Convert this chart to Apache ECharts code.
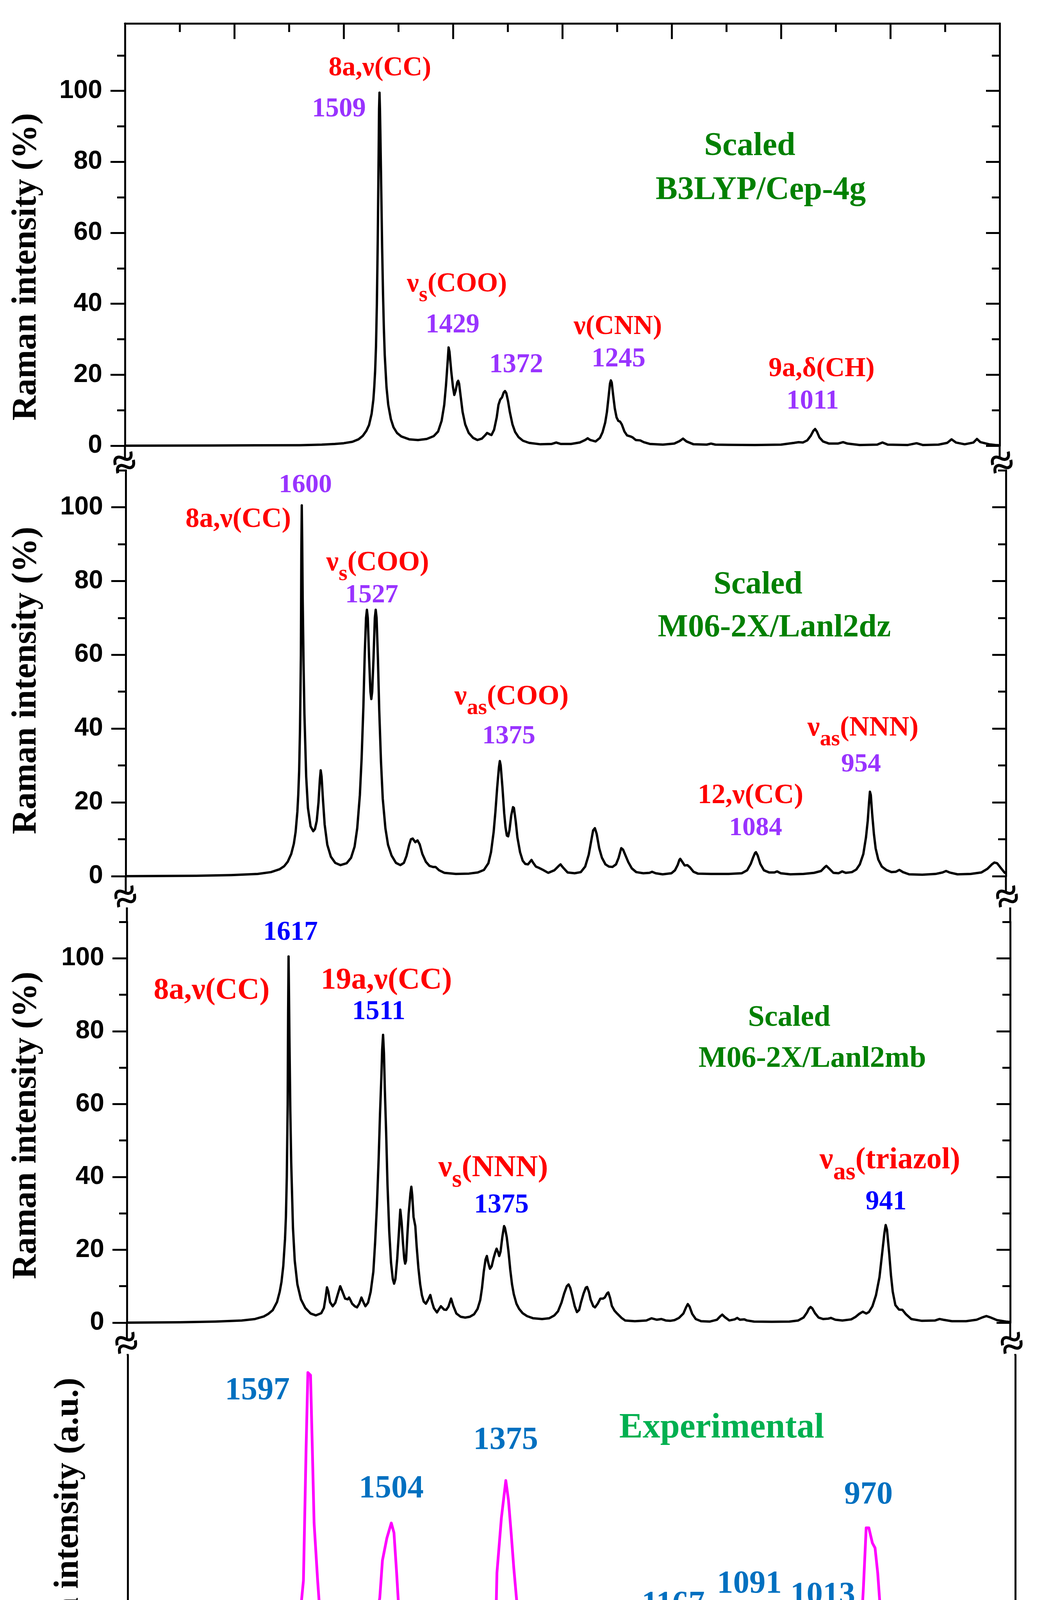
<!DOCTYPE html>
<html>
<head>
<meta charset="utf-8">
<script src="https://cdn.jsdelivr.net/npm/echarts/dist/echarts.min.js"></script>
<style>
html,body{margin:0;padding:0;background:#ffffff;}
#chart{width:2694px;height:4744px;}
</style>
</head>
<body>
<div id="chart"></div>
<script>
// ---------------- DATA ----------------
// Wavenumber (cm-1) / Raman intensity (%) pairs
const b3lypSpectrum = [[1800,0],[1750,0.02],[1700,0.05],[1650,0.1],[1600,0.15],[1575,0.3],[1560,0.5],[1550,0.7],[1540,1.1],[1533,1.8],[1528,2.8],[1524,4.2],[1521,5.8],[1518,9.0],[1516,13],[1515,16.5],[1514,21],[1513,28],[1512,40],[1511,58],[1510,82],[1509.5,95],[1509,99.5],[1508.5,95],[1508,88],[1507,72],[1506,56],[1505,43],[1504,33],[1503,25.5],[1501,16.5],[1499,11.5],[1496,7.5],[1493,5.2],[1489,3.6],[1484,2.6],[1475,1.8],[1465,1.6],[1455,1.9],[1447,2.7],[1442,4.0],[1438,7.0],[1435,11.5],[1433,17],[1431,24],[1430,27.7],[1429,26.5],[1427,21],[1425,16.5],[1423.5,14.3],[1422,15.5],[1420,17.9],[1419,18.3],[1418,17.5],[1416,13.5],[1414,9.5],[1411,6.0],[1407,3.6],[1402,2.2],[1397,1.6],[1392,2.0],[1388,3.0],[1386,3.6],[1383,3.2],[1381,3.0],[1378,4.5],[1375,8.0],[1373,11.5],[1371,13.0],[1369,13.6],[1367,15.0],[1365.5,15.4],[1364,14.8],[1362,12.5],[1360,9.5],[1357,6.0],[1354,3.9],[1350,2.4],[1345,1.4],[1338,0.8],[1325,0.4],[1312,0.5],[1307,0.9],[1302,0.5],[1290,0.5],[1280,0.9],[1274,1.6],[1271,2.1],[1268,1.6],[1262,1.2],[1257,2.2],[1254,3.8],[1251,6.5],[1249,9.5],[1247,14],[1245.5,17.5],[1244.5,18.4],[1243.5,17.8],[1242,14.5],[1240,10.5],[1238,8.0],[1236,7.0],[1234,6.8],[1232,6.0],[1229,4.0],[1226,2.9],[1222,2.6],[1220,2.4],[1216,1.6],[1211,1.5],[1207,1.0],[1200,0.5],[1185,0.3],[1172,0.6],[1166,1.3],[1162,2.0],[1158,1.2],[1150,0.4],[1135,0.3],[1130,0.6],[1125,0.3],[1110,0.25],[1080,0.2],[1050,0.3],[1035,0.8],[1030,1.0],[1025,0.9],[1020,1.5],[1016,2.8],[1013,4.2],[1011,4.7],[1009,4.0],[1006,2.3],[1002,1.2],[995,0.6],[985,0.6],[979,1.0],[974,0.6],[960,0.2],[940,0.3],[934,0.9],[928,0.3],[905,0.2],[895,0.7],[888,0.2],[870,0.3],[860,0.8],[855,1.8],[850,0.9],[840,0.4],[830,0.9],[826,1.9],[822,1.0],[812,0.4],[805,0.2],[800,0.1]];

const lanl2dzSpectrum = [[1800,0],[1720,0.1],[1680,0.3],[1650,0.6],[1635,1.1],[1625,1.9],[1620,2.7],[1616,3.9],[1612,6.0],[1609,8.8],[1607,12],[1605,17.5],[1604,22],[1603,28.5],[1602,40],[1601,60],[1600.5,88],[1600,100.5],[1599.5,90],[1599,76],[1598,58],[1597,44],[1595,27],[1593,18.5],[1590,13.5],[1587,12.2],[1585,12.8],[1583,15],[1581,20],[1579.5,26],[1578.5,28.7],[1577.5,27],[1576,21],[1574,14],[1571,8.5],[1567,5.3],[1562,3.6],[1556,3.0],[1549,3.5],[1544,5.0],[1540,8.0],[1537,13],[1534,22],[1532,32],[1530,46],[1528.5,60],[1527,70],[1526,72.2],[1525,70],[1523.5,59],[1522,50],[1521,48],[1520,50],[1518.5,59],[1517,70],[1516,72.2],[1515,70],[1513.5,59],[1512,45],[1510,31],[1508,21],[1505,13],[1502,8.5],[1498,5.6],[1493,3.6],[1488,3.0],[1484,3.6],[1481,5.5],[1478,8.5],[1476,10.0],[1474,10.2],[1471,9.2],[1468.5,9.7],[1466,8.6],[1463,6.0],[1459,3.9],[1455,2.8],[1451,2.5],[1448,2.5],[1444,1.6],[1438,0.9],[1425,0.6],[1410,0.7],[1400,1.0],[1393,1.7],[1388,3.5],[1385,6.5],[1382,12],[1380,17.5],[1378,24],[1376,29.5],[1375,31.2],[1374,30],[1372,24],[1370,17],[1368.5,13.2],[1367,11],[1365.5,10.8],[1364,12.5],[1362,16.5],[1360,18.7],[1359,18.5],[1357,15],[1355,10.5],[1352,6.5],[1349,4.2],[1346,3.3],[1343,3.2],[1341,3.8],[1339,4.4],[1337,3.6],[1334,2.6],[1331,2.3],[1326,1.7],[1320,0.9],[1313,1.6],[1308,2.8],[1306,3.2],[1303,2.3],[1298,1.0],[1290,0.8],[1283,1.1],[1278,2.6],[1274,5.8],[1271,9.8],[1269,12.4],[1267,13.0],[1265,11.5],[1262,7.5],[1259,5.0],[1255,3.2],[1251,2.6],[1247,2.5],[1243,3.2],[1240,5.0],[1238,6.8],[1237,7.6],[1235,7.2],[1232,5.5],[1229,3.8],[1225,2.1],[1220,1.1],[1212,0.8],[1205,0.9],[1202,1.2],[1198,0.8],[1190,0.5],[1180,0.8],[1176,1.6],[1173,3.0],[1171,4.4],[1170,4.7],[1168,4.0],[1165,2.9],[1162,3.0],[1159,2.4],[1155,1.2],[1150,0.7],[1135,0.6],[1115,0.6],[1100,0.8],[1094,1.6],[1090,3.3],[1087,5.2],[1085,6.3],[1084,6.5],[1082,5.6],[1079,3.3],[1075,1.6],[1069,1.0],[1063,1.0],[1060,1.3],[1056,0.8],[1045,0.5],[1030,0.6],[1018,0.9],[1010,1.4],[1006,2.4],[1004,2.8],[1001,2.1],[996,0.9],[990,0.8],[986,1.3],[982,0.9],[975,1.1],[970,1.8],[966,3.2],[962,6.0],[959,10.5],[957,15],[955.5,20],[954.5,22.9],[953.5,22],[952,17],[950,11.5],[948,7.5],[945,4.5],[941,2.6],[936,1.7],[930,1.1],[925,1.2],[921,1.7],[917,1.1],[910,0.5],[895,0.4],[880,0.6],[872,1.0],[868,1.4],[864,1.0],[855,0.5],[840,0.6],[828,1.0],[821,2.0],[816,3.2],[813,3.7],[810,3.5],[806,2.3],[802,1.1],[800,0.7]];

const lanl2mbSpectrum = [[1800,0],[1740,0.1],[1700,0.3],[1670,0.6],[1655,1.0],[1645,1.7],[1640,2.4],[1635,3.4],[1630,5.7],[1627,8.5],[1625,11.2],[1623,15.5],[1621,23],[1620,29],[1619,40],[1618,60],[1617.5,85],[1617,100.5],[1616.5,90],[1616,78],[1615,58],[1614,44],[1612,26],[1610,17],[1607,10.5],[1603,6.4],[1598,4.0],[1592,2.5],[1586,2.0],[1580,2.6],[1577,4.0],[1575,7.0],[1573.5,9.7],[1572,8.5],[1570,5.6],[1567,4.5],[1564,5.5],[1561,8.0],[1558.5,10.0],[1556,8.5],[1553,6.6],[1550,6.4],[1548.5,6.9],[1547,6.2],[1545,5.2],[1542,4.5],[1539.5,4.2],[1537,5.2],[1534.5,6.9],[1532,5.5],[1530,4.5],[1527,5.5],[1524,8.5],[1521,14],[1519,22],[1517,32],[1515,45],[1513.5,57],[1512,67],[1511,75],[1510,79],[1509,74],[1508,64],[1506.5,52],[1505,38],[1503,25],[1501,16.5],[1499,12],[1497.5,10.7],[1496,12],[1494,17.5],[1492,25],[1490.5,31],[1489,27.5],[1487.5,22],[1486,17.5],[1485,16.2],[1484,17],[1482.5,24],[1481,30],[1479,35.5],[1478,37.3],[1477,35],[1475.5,29],[1473.5,26.5],[1472,21],[1470,15],[1468,10.5],[1466,7.5],[1464,5.8],[1461.5,5.2],[1459,6.3],[1456.5,7.6],[1454.5,5.6],[1452.5,4.0],[1449,2.8],[1447,3.6],[1444.5,4.5],[1441,3.6],[1438.5,3.5],[1436,4.4],[1433,6.6],[1430.5,4.6],[1427,2.5],[1422,1.6],[1417,1.4],[1412,1.6],[1407,2.3],[1403,3.8],[1400,6.2],[1398,9.5],[1396,14],[1394,17.3],[1392.5,18.3],[1391,16.5],[1389,14.8],[1387,15.5],[1385,17.6],[1383,19.3],[1381.5,20.3],[1380,19.5],[1378.5,18.3],[1377,19.5],[1375,23.5],[1373,26.5],[1372,26.0],[1370,23.5],[1368,19.5],[1366,14.5],[1364,10.5],[1362,7.8],[1359,5.2],[1356,3.8],[1352,2.6],[1347,1.8],[1340,1.2],[1330,1.0],[1322,1.2],[1316,2.0],[1312,3.1],[1308,5.5],[1305,8.0],[1302,10.0],[1300,10.5],[1298,9.5],[1296,7.6],[1293,4.5],[1290.5,2.9],[1288,3.5],[1286,5.5],[1283,8.0],[1280.5,9.6],[1279,9.8],[1277,8.5],[1275,6.3],[1272,4.5],[1270,4.2],[1267,5.2],[1264,6.6],[1261,6.6],[1259,6.9],[1256.5,8.0],[1255,8.3],[1253,6.8],[1251,4.6],[1248,3.3],[1245,2.5],[1240,1.3],[1236,0.6],[1225,0.4],[1212,0.6],[1206,1.2],[1200,0.8],[1195,1.0],[1190,0.6],[1185,0.5],[1180,0.7],[1175,1.3],[1170,2.5],[1167,4.2],[1165,5.1],[1163,4.4],[1160,2.4],[1156,1.0],[1150,0.4],[1140,0.3],[1132,0.8],[1128,1.8],[1126,2.2],[1123,1.5],[1118,0.6],[1112,0.9],[1109,1.3],[1106,0.8],[1101,0.9],[1098,0.6],[1090,0.3],[1070,0.25],[1050,0.3],[1040,0.6],[1034,1.4],[1030,2.8],[1028,3.8],[1026,4.3],[1024,3.9],[1021,2.6],[1017,1.4],[1012,1.0],[1006,1.1],[1003,1.3],[998,0.8],[990,0.6],[980,0.9],[975,1.6],[971,2.4],[967,3.0],[963,2.5],[960,2.9],[956,4.5],[952,7.5],[948,12.5],[945,19],[942.5,24.5],[941,26.8],[939.5,25.5],[937,19],[935,13],[933,8.5],[930,4.8],[926,3.6],[922,3.5],[918,2.3],[912,1.0],[900,0.5],[885,0.6],[880,1.0],[876,0.8],[866,0.4],[850,0.4],[838,0.8],[832,1.4],[827,1.8],[823,1.5],[815,0.7],[805,0.3],[800,0.2]];

// Experimental spectrum, arbitrary units (0 = axis line, 100 = top of panel)
const experimentalSpectrum = [[1705,3.6],[1698,8.2],[1695,4.3],[1692,6.6],[1687,9.2],[1682,6.6],[1677,4.3],[1674,6.9],[1671,9.9],[1668,6.2],[1665,3.6],[1661,6.9],[1656,11.5],[1653,5.2],[1650,8.2],[1645,3.6],[1640,4.6],[1637,6.2],[1634,11.9],[1627,12.8],[1626,15.2],[1623,11.5],[1619,16.8],[1615,18.5],[1611,20.1],[1608,26.7],[1605,33.3],[1602,40.6],[1599,75.6],[1597,95.5],[1594,94.8],[1592,75.6],[1590,55.8],[1586,40.6],[1582,27.4],[1579,25.4],[1576,26.7],[1574,22.8],[1571,24.1],[1566,18.5],[1563,22.8],[1558,23.1],[1555,31.0],[1552,25.4],[1547,24.7],[1542,30.7],[1537,30.0],[1532,28.1],[1527,31.4],[1524,27.4],[1521,29.4],[1516,36.0],[1513,45.9],[1508,51.8],[1503,55.8],[1500,53.2],[1497,42.6],[1494,30.7],[1490,25.4],[1487,26.1],[1484,22.8],[1482,29.4],[1478,26.7],[1474,28.7],[1471,24.7],[1468,22.1],[1465,20.1],[1461,22.1],[1456,16.2],[1453,20.1],[1448,19.5],[1445,19.8],[1440,16.8],[1437,11.5],[1432,16.2],[1429,11.5],[1424,14.2],[1419,20.1],[1416,21.4],[1412,15.5],[1408,16.2],[1403,27.4],[1398,30.7],[1395,29.4],[1390,30.7],[1385,32.0],[1384,42.6],[1379,57.1],[1374,67.0],[1371,61.8],[1368,53.2],[1365,43.9],[1361,33.3],[1358,22.8],[1355,26.1],[1352,22.1],[1348,25.4],[1344,23.4],[1339,24.7],[1335,19.5],[1331,20.1],[1326,14.8],[1323,20.8],[1318,17.5],[1313,19.5],[1308,23.4],[1303,22.1],[1299,20.1],[1296,26.1],[1291,22.8],[1288,25.4],[1283,27.4],[1278,26.1],[1275,22.8],[1271,17.5],[1268,16.2],[1266,20.1],[1263,13.5],[1260,18.8],[1255,22.8],[1252,18.8],[1248,16.2],[1244,20.8],[1240,14.8],[1237,12.8],[1232,17.5],[1227,10.9],[1222,15.5],[1217,14.2],[1213,19.5],[1209,14.8],[1204,14.2],[1200,16.2],[1195,14.8],[1190,18.8],[1186,13.5],[1182,11.9],[1178,16.8],[1175,24.1],[1172,24.7],[1169,26.1],[1165,28.7],[1162,22.8],[1159,16.2],[1154,12.2],[1151,18.8],[1147,17.5],[1142,19.5],[1138,20.1],[1133,14.2],[1128,16.8],[1125,17.5],[1121,16.2],[1116,20.5],[1113,17.5],[1107,12.8],[1103,19.5],[1098,19.5],[1094,26.7],[1089,30.7],[1084,30.7],[1081,24.7],[1077,14.8],[1072,17.1],[1067,16.2],[1063,17.5],[1058,16.2],[1053,14.8],[1048,16.8],[1043,10.9],[1040,14.8],[1036,15.5],[1032,20.8],[1027,12.2],[1022,12.2],[1017,19.5],[1012,25.4],[1009,29.7],[1005,25.4],[1002,17.5],[999,12.8],[996,18.8],[991,15.5],[986,16.2],[983,22.1],[978,22.8],[974,26.1],[971,39.3],[968,54.5],[965,54.5],[961,50.5],[958,49.2],[955,42.6],[952,32.7],[948,24.7],[945,18.1],[940,17.5],[935,12.8],[932,18.8],[927,17.5],[922,18.1],[917,14.8],[912,19.5],[908,22.1],[903,22.8],[898,18.8],[893,16.8],[886,13.5],[882,18.8],[877,20.8],[872,20.8],[867,18.8],[862,22.8],[859,23.4],[854,20.8],[849,18.8],[844,14.2],[839,20.1],[834,21.4],[829,24.1],[824,18.8],[820,22.1],[816,15.5],[814,23.4],[808,22.8],[803,21.8]];

// Tick values
const yMajorTicks = [0, 20, 40, 60, 80, 100];
const yMinorTicks = [10, 30, 50, 70, 90, 110];

// Annotations: [panel, text ({..} = subscript), wavenumber, intensity, kind]
const annotations = [
  [0, '8a,ν(CC)', 1508.5, 106.3, 'mode'],
  [0, '1509', 1555.4, 94.8, 'freq'],
  [0, 'Scaled', 1085.7, 84.3, 'method'],
  [0, 'B3LYP/Cep-4g', 1073.2, 71.9, 'method'],
  [0, 'ν{s}(COO)', 1420.5, 45.4, 'mode'],
  [0, '1429', 1425.4, 33.9, 'freq'],
  [0, '1372', 1352.7, 22.7, 'freq'],
  [0, 'ν(CNN)', 1236.6, 33.4, 'mode'],
  [0, '1245', 1235.7, 24.3, 'freq'],
  [0, '9a,δ(CH)', 1003.6, 21.6, 'mode'],
  [0, '1011', 1013.8, 12.4, 'freq'],
  [1, '1600', 1595.9, 105.9, 'freq'],
  [1, '8a,ν(CC)', 1672.2, 96.6, 'mode'],
  [1, 'ν{s}(COO)', 1513.8, 84.8, 'mode'],
  [1, '1527', 1520.5, 76.1, 'freq'],
  [1, 'ν{as}(COO)', 1361.7, 48.5, 'mode'],
  [1, '1375', 1364.8, 37.9, 'freq'],
  [1, 'Scaled', 1081.7, 78.9, 'method'],
  [1, 'M06-2X/Lanl2dz', 1063.1, 67.2, 'method'],
  [1, 'ν{as}(NNN)', 962.4, 40.1, 'mode'],
  [1, '954', 964.6, 30.2, 'freq'],
  [1, '12,ν(CC)', 1090.2, 21.7, 'mode'],
  [1, '1084', 1084.4, 13.0, 'freq'],
  [2, '1617', 1614.8, 107.0, 'freq'],
  [2, '8a,ν(CC)', 1704.1, 91.0, 'mode'],
  [2, '19a,ν(CC)', 1506.2, 93.8, 'mode'],
  [2, '1511', 1514.9, 85.2, 'freq'],
  [2, 'ν{s}(NNN)', 1385.3, 42.4, 'mode'],
  [2, '1375', 1376.0, 32.2, 'freq'],
  [2, 'Scaled', 1050.2, 83.6, 'method'],
  [2, 'M06-2X/Lanl2mb', 1024.1, 72.3, 'method'],
  [2, 'ν{as}(triazol)', 936.2, 44.5, 'mode'],
  [2, '941', 940.6, 33.0, 'freq'],
  [3, '1597', 1653.9, 90.7, 'freq'],
  [3, '1504', 1503.0, 64.8, 'freq'],
  [3, '1375', 1374.1, 77.6, 'freq'],
  [3, 'Experimental', 1130.8, 80.7, 'method'],
  [3, '1167', 1185.4, 34.3, 'freq'],
  [3, '1091', 1099.6, 39.6, 'freq'],
  [3, '1013', 1016.9, 36.6, 'freq'],
  [3, '970', 965.4, 63.1, 'freq']
];

// ---------------- LAYOUT & STYLE ----------------
const panels = [
  {left: 320, right: 2560, top: 60,   bottom: 1141, max: 119},
  {left: 322, right: 2576, top: 1204, bottom: 2243, max: 110},
  {left: 325, right: 2587, top: 2360, bottom: 3386, max: 110},
  {left: 327, right: 2600, top: 3470, bottom: 4440, max: 100}
];
const breakY = [1192, 2303, 3446];
const yTitles = [
  {text: 'Raman intensity (%)', x: 68, y: 683},
  {text: 'Raman intensity (%)', x: 68, y: 1742},
  {text: 'Raman intensity (%)', x: 68, y: 2881},
  {text: 'Raman intensity (a.u.)', x: 176, y: 3945}
];
const RED = '#ff0000', VIOLET = '#9933ff', BLUE = '#0000ff', GREEN = '#008000',
      EXPBLUE = '#0070c0', EXPGREEN = '#00b050', MAGENTA = '#ff00ff', BLACK = '#000000';
const textStyles = [
  {mode: {size: 69, color: RED}, freq: {size: 69, color: VIOLET}, method: {size: 84, color: GREEN}},
  {mode: {size: 71, color: RED}, freq: {size: 68, color: VIOLET}, method: {size: 82, color: GREEN}},
  {mode: {size: 78, color: RED}, freq: {size: 70, color: BLUE}, method: {size: 76, color: GREEN}},
  {freq: {size: 83, color: EXPBLUE}, method: {size: 90, color: EXPGREEN}}
];
const SERIF = '"Liberation Serif", "Times New Roman", serif';
const SANS = '"Liberation Sans", Arial, sans-serif';
const AXW = 5;

// ---------------- AXES ----------------
const lineSt = (w) => ({color: BLACK, width: w});
const xAxes = [];
const yAxes = [];
panels.forEach((p, i) => {
  const base = {gridIndex: i, type: 'value', min: 800, max: 1800, inverse: true, splitLine: {show: false}};
  if (i < 3) {
    xAxes.push(Object.assign({}, base, {show: false}));
  }
  if (i === 0) {
    xAxes.push(Object.assign({}, base, {
      position: 'top', interval: 125,
      axisLine: {show: true, onZero: false, lineStyle: lineSt(AXW)},
      axisTick: {show: true, inside: true, length: 40, lineStyle: lineSt(AXW)},
      minorTick: {show: true, splitNumber: 2, length: 22, lineStyle: lineSt(AXW)},
      minorSplitLine: {show: false},
      axisLabel: {show: false}
    }));
  }
  if (i === 3) {
    xAxes.push(Object.assign({}, base, {
      position: 'bottom', interval: 100,
      axisLine: {show: true, onZero: false, lineStyle: lineSt(7)},
      axisTick: {show: true, inside: false, length: 42, lineStyle: lineSt(AXW)},
      minorTick: {show: true, splitNumber: 2, length: 22, lineStyle: lineSt(AXW)},
      minorSplitLine: {show: false},
      axisLabel: {show: true, margin: 72, color: BLACK, fontSize: 68, fontWeight: 'bold', fontFamily: SANS}
    }));
  }
  const yb = {gridIndex: i, type: 'value', min: 0, max: p.max, splitLine: {show: false}};
  if (i < 3) {
    yAxes.push(Object.assign({}, yb, {
      position: 'left',
      axisLine: {show: true, onZero: false, lineStyle: lineSt(AXW)},
      axisTick: {show: true, inside: false, length: 37, lineStyle: lineSt(AXW), customValues: yMajorTicks},
      axisLabel: {show: true, customValues: yMajorTicks, margin: 58, color: BLACK, fontSize: 66, fontWeight: 'bold', fontFamily: SANS}
    }));
    yAxes.push(Object.assign({}, yb, {
      position: 'left', axisLine: {show: false},
      axisTick: {show: true, inside: false, length: 20, lineStyle: lineSt(AXW), customValues: yMinorTicks},
      axisLabel: {show: false}
    }));
    yAxes.push(Object.assign({}, yb, {
      position: 'right',
      axisLine: {show: true, onZero: false, lineStyle: lineSt(AXW)},
      axisTick: {show: true, inside: true, length: 35, lineStyle: lineSt(AXW), customValues: yMajorTicks},
      axisLabel: {show: false}
    }));
    yAxes.push(Object.assign({}, yb, {
      position: 'right', axisLine: {show: false},
      axisTick: {show: true, inside: true, length: 20, lineStyle: lineSt(AXW), customValues: yMinorTicks},
      axisLabel: {show: false}
    }));
  } else {
    ['left', 'right'].forEach(pos => {
      yAxes.push(Object.assign({}, yb, {
        position: pos,
        axisLine: {show: true, onZero: false, lineStyle: lineSt(AXW)},
        axisTick: {show: false}, axisLabel: {show: false}
      }));
    });
  }
});

const spectra = [b3lypSpectrum, lanl2dzSpectrum, lanl2mbSpectrum, experimentalSpectrum];
const seriesAxes = [[0, 0], [2, 4], [3, 8], [4, 12]];
const series = spectra.map((d, i) => ({
  type: 'line',
  xAxisIndex: seriesAxes[i][0],
  yAxisIndex: seriesAxes[i][1],
  data: d,
  symbol: 'none',
  showSymbol: false,
  silent: true,
  lineStyle: {color: i === 3 ? MAGENTA : BLACK, width: i === 3 ? 7 : 6, join: 'round'},
  z: 3
}));

const chart = echarts.init(document.getElementById('chart'), null, {renderer: 'canvas', width: 2694, height: 4744});
chart.setOption({
  backgroundColor: '#ffffff',
  animation: false,
  grid: panels.map(p => ({left: p.left, top: p.top, width: p.right - p.left, height: p.bottom - p.top, containLabel: false, outerBoundsMode: 'none'})),
  xAxis: xAxes,
  yAxis: yAxes,
  series: series
});

// ---------------- TEXT & DECORATION ----------------
const measureCtx = document.createElement('canvas').getContext('2d');
function fontOf(size) { return 'bold ' + size + 'px ' + SERIF; }
function textWidth(str, font) { measureCtx.font = font; return measureCtx.measureText(str).width; }
function pieces(markup, cx, cy, size, color) {
  const tokens = [];
  const re = /\{([^}]*)\}|\[([^\]]*)\]|([^{\[]+)/g;
  let m;
  while ((m = re.exec(markup)) !== null) {
    if (m[1] !== undefined) tokens.push({t: m[1], kind: 'sub'});
    else if (m[2] !== undefined) tokens.push({t: m[2], kind: 'sup'});
    else tokens.push({t: m[3], kind: 'main'});
  }
  let total = 0;
  tokens.forEach(tk => {
    tk.size = tk.kind === 'main' ? size : Math.round(size * (tk.kind === 'sub' ? 0.82 : 0.6));
    tk.font = fontOf(tk.size);
    tk.w = textWidth(tk.t, tk.font);
    total += tk.w;
  });
  let x = cx - total / 2;
  return tokens.map(tk => {
    const dy = tk.kind === 'sub' ? 0.4 * size : (tk.kind === 'sup' ? -0.42 * size : 0);
    const el = {type: 'text', x: x, y: cy + dy, z: 100, silent: true,
      style: {text: tk.t, font: tk.font, fill: color, align: 'left', verticalAlign: 'middle'}};
    x += tk.w;
    return el;
  });
}

const graphics = [];
// axis-line continuations to the break marks
breakY.forEach((by, i) => {
  const a = panels[i], b = panels[i + 1];
  [[a.left, b.left], [a.right, b.right]].forEach(([xa, xb]) => {
    graphics.push({type: 'line', z: 5, silent: true, shape: {x1: xa, y1: a.bottom, x2: xa, y2: by - 20}, style: {stroke: BLACK, lineWidth: AXW}});
    if (b.top > by + 20) {
      graphics.push({type: 'line', z: 5, silent: true, shape: {x1: xb, y1: by + 20, x2: xb, y2: b.top}, style: {stroke: BLACK, lineWidth: AXW}});
    }
    graphics.push({type: 'text', z: 6, silent: true, x: (xa + xb) / 2, y: by, rotation: 0.3,
      style: {text: '≈', font: 'bold 110px ' + SERIF, fill: BLACK, align: 'center', verticalAlign: 'middle'}});
  });
});
// y-axis titles
yTitles.forEach(t => {
  graphics.push({type: 'text', z: 100, silent: true, x: t.x, y: t.y, rotation: Math.PI / 2,
    style: {text: t.text, font: fontOf(88), fill: BLACK, align: 'center', verticalAlign: 'middle'}});
});
// x-axis title
pieces('Wavenumbers (cm[-1])', 1535, 4690, 84, BLACK).forEach(e => graphics.push(e));
// annotations positioned through the series' coordinate systems
annotations.forEach(([panel, markup, wx, wy, kind]) => {
  const st = textStyles[panel][kind];
  const px = chart.convertToPixel({seriesIndex: panel}, [wx, wy]);
  pieces(markup, px[0], px[1], st.size, st.color).forEach(e => graphics.push(e));
});
chart.setOption({graphic: {elements: graphics}});
</script>
</body>
</html>
